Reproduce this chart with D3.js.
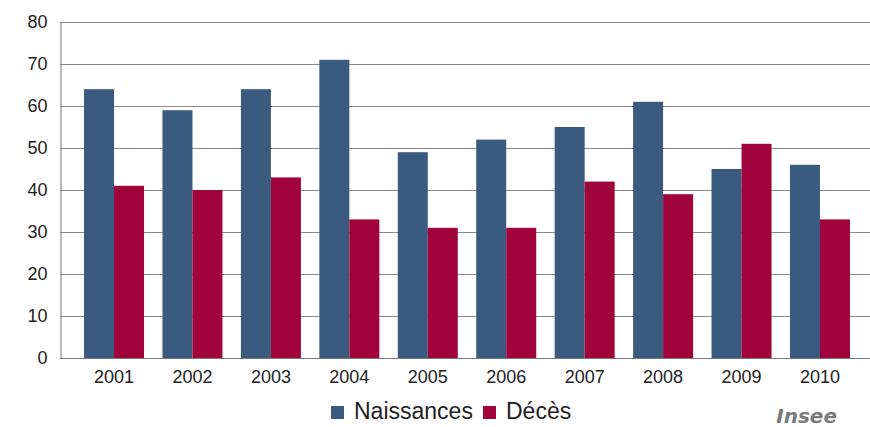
<!DOCTYPE html>
<html>
<head>
<meta charset="utf-8">
<script src="https://cdn.jsdelivr.net/npm/d3@7"></script>
<style>
  body { margin: 0; background: #fff; }
  svg { display: block; font-family: "Liberation Sans", Arial, sans-serif; }
</style>
</head>
<body>
<svg id="chart" width="870" height="427"></svg>
<script>
// Births and deaths per year
const years = ["2001","2002","2003","2004","2005","2006","2007","2008","2009","2010"];
const naissances = [64, 59, 64, 71, 49, 52, 55, 61, 45, 46];
const deces = [41, 40, 43, 33, 31, 31, 42, 39, 51, 33];
const yTicks = [0, 10, 20, 30, 40, 50, 60, 70, 80];
const seriesNames = ["Naissances", "Décès"];
const colors = ["#3b5a80", "#a1043a"];

const svg = d3.select("#chart");
const plotLeft = 60, plotRight = 870, plotTop = 22, plotBottom = 358;

const x = d3.scaleBand().domain(years).range([75, 859]).paddingInner(0.235).paddingOuter(0.115);
const xs = d3.scaleBand().domain(seriesNames).range([0, x.bandwidth()]);
const y = d3.scaleLinear().domain([0, 80]).range([plotBottom, plotTop]);

// horizontal grid
svg.append("g").selectAll("line").data(yTicks).join("line")
  .attr("x1", plotLeft).attr("x2", plotRight)
  .attr("y1", d => y(d) + 0.5).attr("y2", d => y(d) + 0.5)
  .attr("stroke", "#8a8a8a").attr("stroke-width", 1);

// y axis
const yAxis = svg.append("g").attr("transform", `translate(${plotLeft + 0.5},0)`)
  .call(d3.axisLeft(y).tickValues(yTicks).tickSize(0).tickPadding(13));
yAxis.select(".domain").attr("stroke", "#777");
yAxis.selectAll("text").attr("font-size", 18).attr("fill", "#222")
  .attr("font-family", "Liberation Sans, Arial, sans-serif");

// bars
const series = [naissances, deces];
const groups = svg.append("g").selectAll("g").data(years).join("g")
  .attr("transform", d => `translate(${x(d)},0)`);
groups.selectAll("rect").data((d, i) => seriesNames.map((s, k) => ({ s, v: series[k][i], k })))
  .join("rect")
  .attr("x", d => xs(d.s))
  .attr("width", xs.bandwidth())
  .attr("y", d => y(d.v))
  .attr("height", d => y(0) - y(d.v))
  .attr("fill", d => colors[d.k]);

// x axis
const xAxis = svg.append("g").attr("transform", `translate(0,${plotBottom + 0.5})`)
  .call(d3.axisBottom(x).tickSize(0).tickPadding(12));
xAxis.select(".domain").remove();
xAxis.selectAll("text").attr("font-size", 18).attr("fill", "#222")
  .attr("font-family", "Liberation Sans, Arial, sans-serif");
svg.append("line").attr("x1", plotLeft).attr("x2", plotRight)
  .attr("y1", plotBottom + 0.5).attr("y2", plotBottom + 0.5).attr("stroke", "#777");

// legend
const legend = svg.append("g");
const legendX = [331, 483];
seriesNames.forEach((s, k) => {
  legend.append("rect").attr("x", legendX[k]).attr("y", 406).attr("width", 13).attr("height", 13)
    .attr("fill", colors[k]);
  legend.append("text").attr("x", legendX[k] + 23).attr("y", 419)
    .attr("font-size", 23).attr("fill", "#222").text(s);
});

// source
svg.append("text").attr("x", 837).attr("y", 423).attr("text-anchor", "end")
  .attr("font-family", "DejaVu Sans, Verdana, sans-serif")
  .attr("font-size", 20).attr("font-weight", "bold").attr("font-style", "italic")
  .attr("fill", "#7a7a7a").text("Insee");
</script>
</body>
</html>
